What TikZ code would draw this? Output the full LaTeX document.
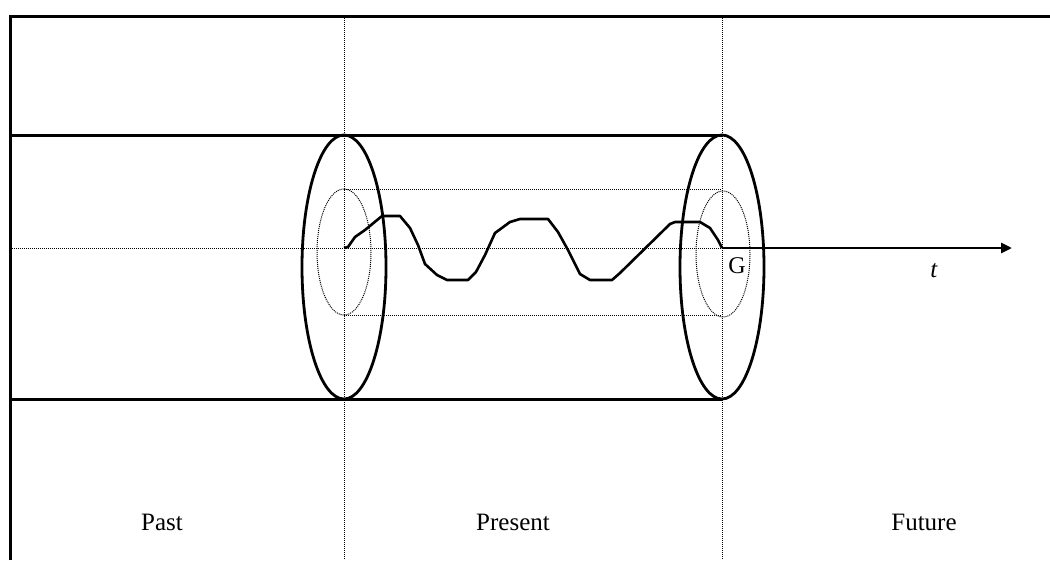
\documentclass[tikz,border=0pt]{standalone}
\usepackage{fontspec}
\setmainfont{Liberation Serif}
\usetikzlibrary{arrows.meta,positioning}
\tikzset{
  thinline/.style={line width=1pt, dash pattern=on 1pt off 1pt},
  heavyline/.style={line width=3pt},
  rimline/.style={line width=2.8pt},
  label/.style={font=\fontsize{25}{25}\selectfont, inner sep=0pt},
}
\begin{document}
\begin{tikzpicture}[x=1pt, y=-1pt]
  \useasboundingbox (0,0) rectangle (1050,560);
  % reference points
  \coordinate (left)  at (10,248);
  \coordinate (o1)    at (344,248);
  \coordinate (o2)    at (722,248);
  \coordinate (tip)   at (1012,248);
  % frame
  \draw[heavyline] (10,560) -- (10,16) -- (1050,16);
  % time divisions
  \draw[thinline] (344,16) -- (344,560);
  \draw[thinline] (722,16) -- (722,560);
  % cylinder
  \draw[heavyline] (10,135) -- (722,135);
  \draw[heavyline] (10,399) -- (722,399);
  \draw[thinline] (344,189) -- (722,189);
  \draw[thinline] (344,315) -- (722,315);
  \draw[thinline] (left) -- (o1) -- (o2);
  \draw[thinline] (344,252) ellipse (27 and 63);
  \draw[thinline] (723,254) ellipse (27 and 63);
  \draw[rimline] (344,267) ellipse (42 and 132);
  \draw[rimline] (722,267) ellipse (42 and 132);
  % path
  \draw[line width=2.6pt, line join=round]
    (o1) -- (348,247) -- (355,237) -- (365,230) -- (382,216) -- (400,216)
    -- (410,228) -- (418,245) -- (425,264) -- (437,275) -- (447,280) -- (468,280)
    -- (476,272) -- (485,255) -- (495,233) -- (510,222) -- (520,219) -- (548,219)
    -- (558,232) -- (568,250) -- (580,274) -- (590,280) -- (612,280)
    -- (620,273) -- (670,224) -- (675,222) -- (700,222)
    -- (710,228) -- (718,240) -- (o2);
  % axis
  \draw[line width=2.8pt, -{Triangle[length=11pt,width=10pt]}] (o2) -- (tip);
  \node[label, font=\fontsize{24}{24}\selectfont] (g) at (737,266) {G};
  \node[label] (t) at (934,271) {\textit{t}};
  \node[label] (past) at (162,522) {Past};
  \node[label] (present) at (513,522) {Present};
  \node[label] (future) at (924,522) {Future};
\end{tikzpicture}
\end{document}
